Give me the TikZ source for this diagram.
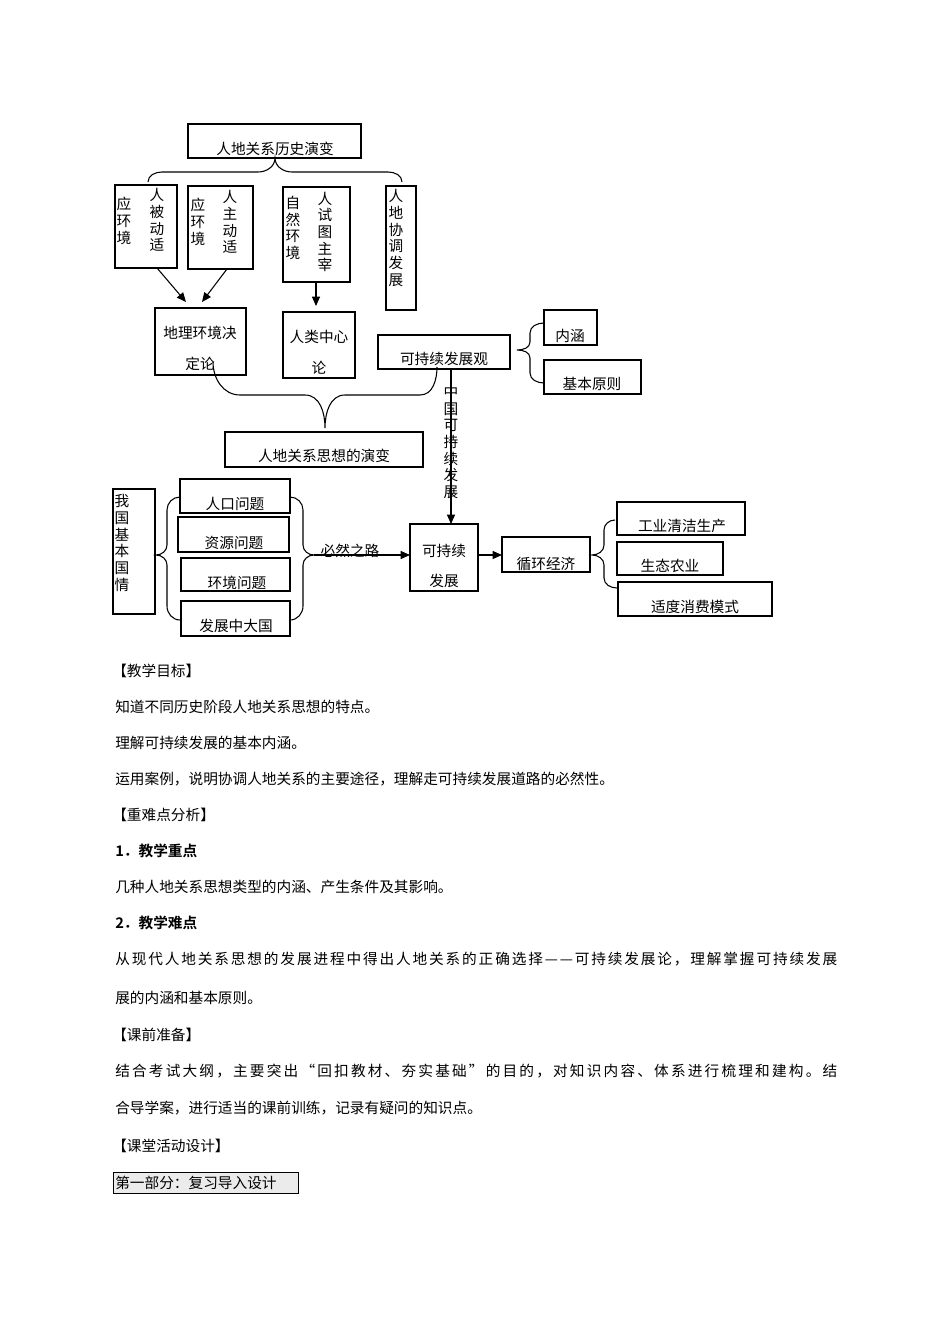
\documentclass[tikz,border=0pt]{standalone}
\usepackage{fontspec}
\setmainfont{Noto Sans CJK SC}[BoldFont={Noto Sans CJK SC Bold}]
\usetikzlibrary{arrows.meta}
\def\spx#1{#1\futurelet\next\spxaux}
\def\spxaux{\ifx\next\relax\expandafter\spxend\else\hfil\expandafter\spx\fi}
\def\spxend\relax{}
\newcommand\fullline[1]{\makebox[541.5pt][s]{\spx #1\relax}}
\begin{document}
\begin{tikzpicture}[x=0.75pt,y=-0.75pt,
  font=\fontsize{11}{12.5}\selectfont,
  bx/.style={draw,line width=0.8pt,inner sep=0},
  tx/.style={inner sep=0,align=center},
  ln/.style={line width=0.8pt},
  arr/.style={ln,-{Triangle[length=7pt,width=6pt]}},
  para/.style={anchor=base west,inner sep=0}]
\useasboundingbox (0,0) rectangle (950,1344);
% boxes
\draw[ln] (188,124) rectangle (361,158);
\node[tx] (t1) at (275,149) {人地关系历史演变};
\draw[ln] (115,185) rectangle (177,268) coordinate (A);
\draw[ln] (188,186) rectangle (253,269);
\draw[ln] (283,187) rectangle (350,282);
\draw[ln] (386,186) rectangle (416,310);
\node[tx] (a1) at (157,220) {人\\被\\动\\适};
\node[tx] (a2) at (124,221) {应\\环\\境};
\node[tx] (b1) at (230,222) {人\\主\\动\\适};
\node[tx] (b2) at (198,222) {应\\环\\境};
\node[tx] (c1) at (325,232) {人\\试\\图\\主\\宰};
\node[tx] (c2) at (293,228) {自\\然\\环\\境};
\node[tx] (d1) at (396,238) {人\\地\\协\\调\\发\\展};
% brace top
\draw[ln] (148,182) to[out=90,in=180] (162,172) -- (258,172) to[out=0,in=-90] (275,158)
          to[out=-90,in=180] (292,172) -- (388,172) to[out=0,in=90] (402,182);
\draw[ln] (155,308) rectangle (246,375);
\node[tx] at (200,333) {地理环境决};
\node[tx] at (200,364) {定论};
\draw[ln] (283,312) rectangle (355,378);
\node[tx] at (319,337) {人类中心};
\node[tx] at (319,368) {论};
\draw[arr] (157,268) -- (186,302);
\draw[arr] (227,269) -- (202,302);
\draw[arr] (316,282) -- (316,306);
\draw[ln] (378,335) rectangle (510,369);
\node[tx] at (444,359) {可持续发展观};
\draw[ln] (544,310) rectangle (597,345);
\node[tx] at (570,336) {内涵};
\draw[ln] (544,360) rectangle (641,394);
\node[tx] at (592,384) {基本原则};
\draw[ln] (544,323) to[out=180,in=90] (530,333) -- (530,342) to[out=-90,in=0] (517,350)
          to[out=0,in=90] (530,358) -- (530,373) to[out=-90,in=180] (544,383);
% big brace
\draw[ln] (213,362) to[out=-90,in=180] (240,395) -- (305,395) to[out=0,in=90] (325,428)
          to[out=90,in=180] (345,395) -- (420,395) to[out=0,in=-90] (437,367);
\draw[ln] (225,432) rectangle (423,467);
\node[tx] at (324,456) {人地关系思想的演变};
% vertical arrow
\draw[arr] (451,369) -- (451,524);
\node[tx,fill=white,fill opacity=0,text opacity=1] at (451,442) {中\\国\\可\\持\\续\\发\\展};
% bottom-left
\draw[ln] (113,489) rectangle (155,614);
\node[tx] at (122,543) {我\\国\\基\\本\\国\\情};
\draw[ln] (180,479) rectangle (290,513);
\node[tx] at (235,504) {人口问题};
\draw[ln] (178,517) rectangle (289,552);
\node[tx] at (234,543) {资源问题};
\draw[ln] (181,558) rectangle (290,591);
\node[tx] at (237,583) {环境问题};
\draw[ln] (181,601) rectangle (290,636);
\node[tx] at (236,626) {发展中大国};
\draw[ln] (180,497) to[out=180,in=90] (167,510) -- (167,545) to[out=-90,in=0] (156,555)
          to[out=0,in=90] (167,565) -- (167,606) to[out=-90,in=180] (180,620);
\draw[ln] (290,497) to[out=0,in=90] (303,510) -- (303,545) to[out=-90,in=180] (314,555)
          to[out=180,in=90] (303,565) -- (303,606) to[out=-90,in=0] (290,620);
\draw[ln] (410,524) rectangle (478,591);
\node[tx] at (444,551) {可持续};
\node[tx] at (444,581) {发展};
\draw[arr] (314,555) -- (410,555);
\node[tx] at (350,551) {必然之路};
\draw[ln] (502,537) rectangle (590,572);
\node[tx] at (546,564) {循环经济};
\draw[arr] (478,555) -- (502,555);
\draw[ln] (617,502) rectangle (745,535);
\node[tx] at (682,526) {工业清洁生产};
\draw[ln] (617,542) rectangle (723,575);
\node[tx] at (670,566) {生态农业};
\draw[ln] (618,582) rectangle (772,616);
\node[tx] at (695,607) {适度消费模式};
\draw[ln] (615,520) to[out=180,in=90] (604,530) -- (604,545) to[out=-90,in=0] (592,555)
          to[out=0,in=90] (604,565) -- (604,578) to[out=-90,in=180] (617,588);
% text
\node[para] (p1) at (112,676) {【教学目标】};
\node[para] (p2) at (115,712) {知道不同历史阶段人地关系思想的特点。};
\node[para] (p3) at (115,748) {理解可持续发展的基本内涵。};
\node[para] (p4) at (115,784) {运用案例，说明协调人地关系的主要途径，理解走可持续发展道路的必然性。};
\node[para] (p5) at (112,820) {【重难点分析】};
\node[para] (p6) at (115,856) {\bfseries 1．教学重点};
\node[para] (p7) at (115,892) {几种人地关系思想类型的内涵、产生条件及其影响。};
\node[para] (p8) at (115,928) {\bfseries 2．教学难点};
\node[para] (p9) at (115,964) {\fullline{从现代人地关系思想的发展进程中得出人地关系的正确选择——可持续发展论，理解掌握可持续发展}};
\node[para] (p10) at (115,1003) {展的内涵和基本原则。};
\node[para] (p11) at (112,1040) {【课前准备】};
\node[para] (p12) at (115,1076) {\fullline{结合考试大纲，主要突出“回扣教材、夯实基础”的目的，对知识内容、体系进行梳理和建构。结}};
\node[para] (p13) at (115,1113) {合导学案，进行适当的课前训练，记录有疑问的知识点。};
\node[para] (p14) at (112,1151) {【课堂活动设计】};
\draw[line width=0.6pt,fill=black!8] (113,1172) rectangle (298,1193);
\node[para] (p15) at (115,1188) {第一部分：复习导入设计};
\end{tikzpicture}
\end{document}
